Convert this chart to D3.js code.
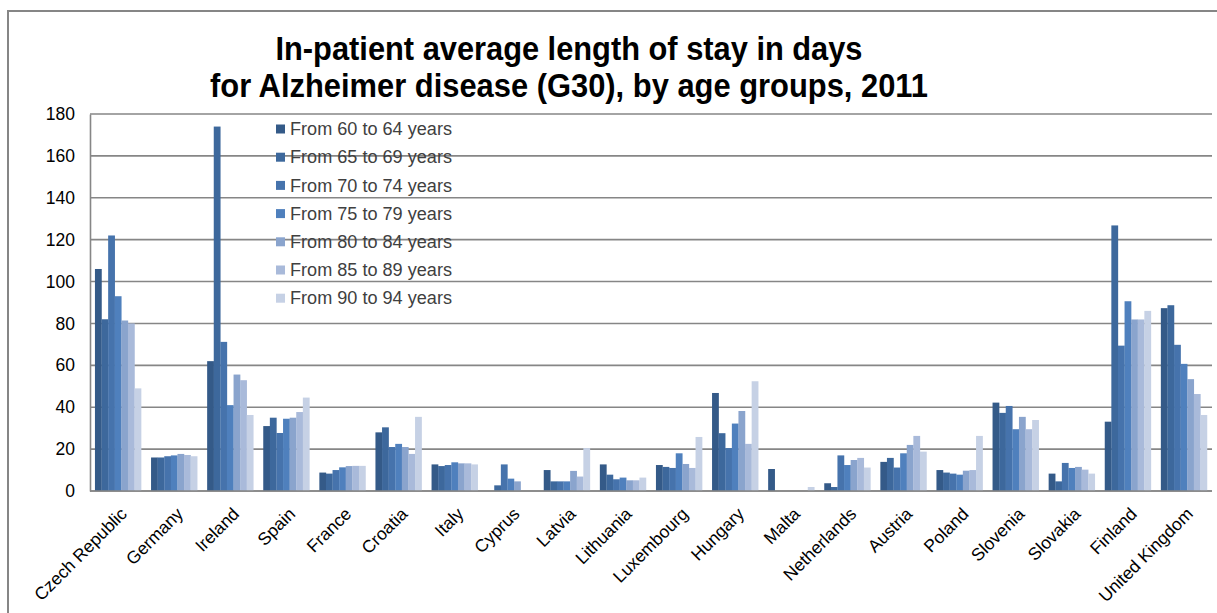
<!DOCTYPE html>
<html>
<head>
<meta charset="utf-8">
<script src="https://cdn.jsdelivr.net/npm/d3@7"></script>
<style>
  html, body { margin: 0; padding: 0; background: #fff; }
  svg { display: block; }
</style>
</head>
<body>
<svg id="chart" width="1217" height="613"></svg>
<script>
const categories = ["Czech Republic","Germany","Ireland","Spain","France","Croatia","Italy","Cyprus","Latvia","Lithuania","Luxembourg","Hungary","Malta","Netherlands","Austria","Poland","Slovenia","Slovakia","Finland","United Kingdom"];
const seriesNames = ["From 60 to 64 years","From 65 to 69 years","From 70 to 74 years","From 75 to 79 years","From 80 to 84 years","From 85 to 89 years","From 90 to 94 years"];
const age60_64 = [106, 16, 62, 31, 8.8, 28, 12.7, null, 10, 12.7, 12.4, 46.8, 10.5, 3.7, 13.9, 10, 42.2, 8.3, 33.1, 87.3];
const age65_69 = [82, 16, 174, 35, 8.3, 30.4, 11.9, 2.7, 4.6, 7.8, 11.5, 27.6, null, 1.9, 15.8, 8.8, 37.3, 4.6, 126.8, 88.7];
const age70_74 = [122, 16.6, 71.2, 27.7, 10, 21, 12.4, 12.7, 4.6, 5.6, 11, 20.5, null, 17, 11.2, 8.3, 40.6, 13.4, 69.4, 69.8];
const age75_79 = [93, 17, 41, 34.5, 11.3, 22.5, 13.7, 5.9, 4.6, 6.4, 18, 32.2, null, 12.4, 18, 7.8, 29.5, 11, 90.6, 60.7];
const age80_84 = [81.4, 17.7, 55.6, 35, 11.9, 21, 13.2, 4.6, 9.6, 5.1, 12.9, 38.2, null, 14.8, 22, 9.7, 35.4, 11.5, 81.9, 53.4];
const age85_89 = [80, 17.2, 52.9, 37.7, 12, 17.7, 13.2, null, 6.9, 5.1, 11, 22.5, null, 15.8, 26.3, 10, 29.5, 10.2, 81.9, 46.3];
const age90_94 = [49, 16.6, 36.3, 44.6, 12, 35.4, 12.7, null, 20.5, 6.4, 25.8, 52.4, 1.9, 11.2, 18.8, 26.3, 33.9, 8.3, 86, 36.3];
const yTicks = [0, 20, 40, 60, 80, 100, 120, 140, 160, 180];
const titleLines = ["In-patient average length of stay in days", "for Alzheimer disease (G30), by age groups, 2011"];

const seriesValues = [age60_64, age65_69, age70_74, age75_79, age80_84, age85_89, age90_94];
const colors = ["#345A88", "#3D689C", "#4673AC", "#4F80BD", "#8AA4CD", "#A9BADA", "#C6D1E5"];

const svg = d3.select("#chart");
const W = 1217, H = 613;
const plot = { left: 90, right: 1212, top: 114, bottom: 491 };

// outer frame (only top & left visible)
svg.append("rect")
  .attr("x", 8).attr("y", 11)
  .attr("width", W + 20).attr("height", H + 20)
  .attr("fill", "none").attr("stroke", "#868686").attr("stroke-width", 2);

const x = d3.scaleBand()
  .domain(categories)
  .range([plot.left, plot.right])
  .paddingInner(1.5 / 8.5)
  .paddingOuter(0.75 / 8.5);
const xs = d3.scaleBand()
  .domain(seriesNames)
  .range([0, x.bandwidth()]);
const y = d3.scaleLinear().domain([0, 180]).range([plot.bottom, plot.top]);

// gridlines
svg.append("g").selectAll("line")
  .data(yTicks)
  .join("line")
  .attr("x1", plot.left).attr("x2", plot.right)
  .attr("y1", d => y(d)).attr("y2", d => y(d))
  .attr("stroke", "#868686").attr("stroke-width", 1.6);

// y axis
const yAxis = svg.append("g")
  .attr("transform", `translate(${plot.left},0)`)
  .call(d3.axisLeft(y).tickValues(yTicks).tickSize(0).tickPadding(15));
yAxis.select(".domain").attr("stroke", "#868686").attr("stroke-width", 1.6);
yAxis.selectAll("text")
  .attr("font-family", "Liberation Sans, Arial, sans-serif")
  .attr("font-size", 17.5).attr("fill", "#000");

// bars
const groups = svg.append("g").selectAll("g")
  .data(categories)
  .join("g")
  .attr("transform", d => `translate(${x(d)},0)`);
groups.selectAll("rect")
  .data((c, i) => seriesNames.map((s, j) => ({ s, j, v: seriesValues[j][i] })).filter(d => d.v != null))
  .join("rect")
  .attr("x", d => xs(d.s))
  .attr("width", xs.bandwidth() + 0.2)
  .attr("y", d => y(d.v))
  .attr("height", d => y(0) - y(d.v))
  .attr("fill", d => colors[d.j]);

// x axis line
svg.append("line")
  .attr("x1", plot.left).attr("x2", plot.right)
  .attr("y1", plot.bottom).attr("y2", plot.bottom)
  .attr("stroke", "#868686").attr("stroke-width", 1.6);

// x labels
const xAxis = svg.append("g")
  .attr("transform", `translate(0,${plot.bottom})`)
  .call(d3.axisBottom(x).tickSize(0).tickPadding(0));
xAxis.select(".domain").remove();
xAxis.selectAll("text")
  .attr("font-family", "Liberation Sans, Arial, sans-serif")
  .attr("font-size", 17.5).attr("fill", "#000")
  .attr("text-anchor", "end")
  .attr("dy", 0)
  .attr("transform", "translate(10,24) rotate(-45)");

// title
svg.append("g").selectAll("text")
  .data(titleLines)
  .join("text")
  .attr("x", 569)
  .attr("y", (d, i) => 60 + i * 37)
  .attr("text-anchor", "middle")
  .attr("font-family", "Liberation Sans, Arial, sans-serif")
  .attr("font-weight", "bold")
  .attr("font-size", 33)
  .attr("fill", "#000")
  .attr("textLength", (d, i) => i === 0 ? 587 : 718)
  .attr("lengthAdjust", "spacingAndGlyphs")
  .text(d => d);

// legend
const legend = svg.append("g").selectAll("g")
  .data(seriesNames)
  .join("g")
  .attr("transform", (d, i) => `translate(276,${129 + i * 28.2})`);
legend.append("rect")
  .attr("x", 0).attr("y", -4.5).attr("width", 9).attr("height", 9)
  .attr("fill", (d, i) => colors[i]);
legend.append("text")
  .attr("x", 14).attr("y", 0).attr("dy", "0.35em")
  .attr("font-family", "Liberation Sans, Arial, sans-serif")
  .attr("font-size", 17.5).attr("fill", "#404040")
  .attr("textLength", 162)
  .attr("lengthAdjust", "spacingAndGlyphs")
  .text(d => d);
</script>
</body>
</html>
